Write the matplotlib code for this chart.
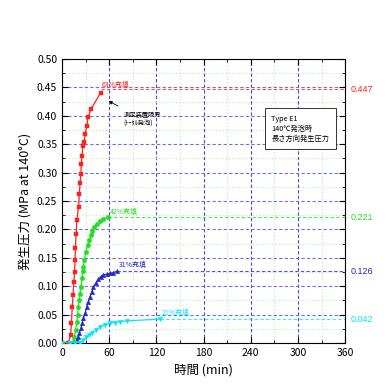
import matplotlib

matplotlib.use("Agg")
import matplotlib.pyplot as plt
from matplotlib.ticker import MultipleLocator, FormatStrFormatter

plt.rcParams["font.family"] = ["Noto Sans CJK JP", "DejaVu Sans"]
plt.rcParams["axes.unicode_minus"] = False

# 63% filling (red squares)
t63 = [0, 8, 11, 12, 13, 14, 15, 16, 16.5, 17, 18, 19, 21, 22, 23, 24, 24.5,
       25.5, 26.5, 28, 29.5, 31.5, 33, 37, 49]
p63 = [0.0, 0.0, 0.014, 0.035, 0.063, 0.085, 0.107, 0.125, 0.146, 0.167, 0.192,
       0.217, 0.240, 0.262, 0.282, 0.298, 0.315, 0.329, 0.346, 0.354, 0.368,
       0.382, 0.397, 0.412, 0.440]

# 42% filling (green circles)
t42 = [0, 10, 14.4, 15.7, 17.4, 18.7, 19.9, 20.7, 22, 22.9, 24.2, 25.4, 26.3,
       27.1, 28.4, 30.5, 32.7, 34.7, 36.9, 38.5, 41.1, 44.1, 48.3, 52.5, 58.9]
p42 = [0.0, 0.0, 0.002, 0.011, 0.023, 0.037, 0.049, 0.064, 0.076, 0.087, 0.099,
       0.114, 0.126, 0.134, 0.146, 0.161, 0.173, 0.181, 0.190, 0.197, 0.204,
       0.209, 0.215, 0.218, 0.221]

# 31% filling (blue up-triangles)
t31 = [0, 12, 15, 18.7, 20.7, 22, 24.2, 25.8, 27.1, 29.3, 31.4, 33.5, 35.6,
       37.8, 39.9, 43.3, 46.2, 49.2, 52.5, 56.8, 61, 65.3, 69.5]
p31 = [0.0, 0.0, 0.0, 0.005, 0.011, 0.017, 0.026, 0.035, 0.0435, 0.052, 0.064,
       0.073, 0.0815, 0.090, 0.098, 0.106, 0.112, 0.117, 0.120, 0.121, 0.1227,
       0.124, 0.126]

# 21% filling (cyan down-triangles)
t21 = [0, 10, 16, 22.9, 27.1, 30.5, 34.7, 38.5, 43.3, 48.3, 54.7, 61, 67.4,
       73.8, 82, 124.7]
p21 = [0.0, 0.0, 0.0, 0.0005, 0.005, 0.010, 0.014, 0.018, 0.023, 0.028, 0.032,
       0.035, 0.036, 0.0375, 0.039, 0.042]

final_values = [0.447, 0.221, 0.126, 0.042]
final_colors = ["#ff2020", "#20e020", "#2828c8", "#00e8ff"]
final_starts = [49, 58.9, 69.5, 124.7]
labels = ["63%充填", "42%充填", "31%充填", "21%充填"]

fig = plt.figure(figsize=(3.9, 3.9), dpi=100)
ax = fig.add_axes([0.159, 0.1205, 0.726, 0.7285])

ax.set_xlim(0, 360)
ax.set_ylim(0, 0.5)
ax.xaxis.set_major_locator(MultipleLocator(60))
ax.xaxis.set_minor_locator(MultipleLocator(30))
ax.yaxis.set_major_locator(MultipleLocator(0.05))
ax.yaxis.set_minor_locator(MultipleLocator(0.025))
ax.yaxis.set_major_formatter(FormatStrFormatter("%.2f"))
ax.tick_params(which="both", direction="in", top=True, right=True, labelsize=7.5)
ax.tick_params(which="major", length=4)
ax.tick_params(which="minor", length=2.5)

ax.grid(which="major", axis="x", color="#4848d8", linestyle=(0, (3, 2)), linewidth=0.8)
ax.grid(which="major", axis="y", color="#7070e0", linestyle=(0, (3, 2)), linewidth=0.8)
ax.grid(which="minor", color="#b0f0b0", linestyle=(0, (1, 2)), linewidth=0.8)
ax.set_axisbelow(True)

series = [(t63, p63, "s"), (t42, p42, "o"), (t31, p31, "^"), (t21, p21, "v")]
for (t, p, m), c in zip(series, final_colors):
    ax.plot(t, p, color=c, marker=m, markersize=3.2, linewidth=0.9,
            markeredgewidth=0.3, markeredgecolor=c, zorder=4)

for v, c, s in zip(final_values, final_colors, final_starts):
    ax.plot([s, 360], [v, v], color=c, linestyle=(0, (3, 2)), linewidth=0.8,
            alpha=0.8, zorder=3)
    ax.text(367, v, f"{v:.3f}", color=c, fontsize=6.5, va="center",
            ha="left", family=["Liberation Sans", "DejaVu Sans"], clip_on=False)

ax.text(51, 0.448, labels[0], color=final_colors[0], fontsize=5, va="bottom")
ax.text(61, 0.224, labels[1], color=final_colors[1], fontsize=5, va="bottom")
ax.text(72, 0.130, labels[2], color=final_colors[2], fontsize=5, va="bottom")
ax.text(127, 0.045, labels[3], color=final_colors[3], fontsize=5, va="bottom")

ax.annotate("測定装置限界\n(ﾄｰﾀﾙ発泡)", xy=(56, 0.428), xytext=(78, 0.395),
            fontsize=4.5, va="center", ha="left",
            arrowprops=dict(arrowstyle="-|>", color="black", lw=0.6,
                            mutation_scale=5))

ax.text(266, 0.377, "Type E1\n140℃発泡時\n長さ方向発生圧力", fontsize=5.2,
        va="center", ha="left", linespacing=1.3,
        bbox=dict(boxstyle="square,pad=0.9", facecolor="white",
                  edgecolor="#333333", linewidth=0.7))

ax.set_xlabel("時間 (min)", fontsize=9)
ax.set_ylabel("発生圧力 (MPa at 140°C)", fontsize=9)

fig.savefig("out.png", dpi=100)
